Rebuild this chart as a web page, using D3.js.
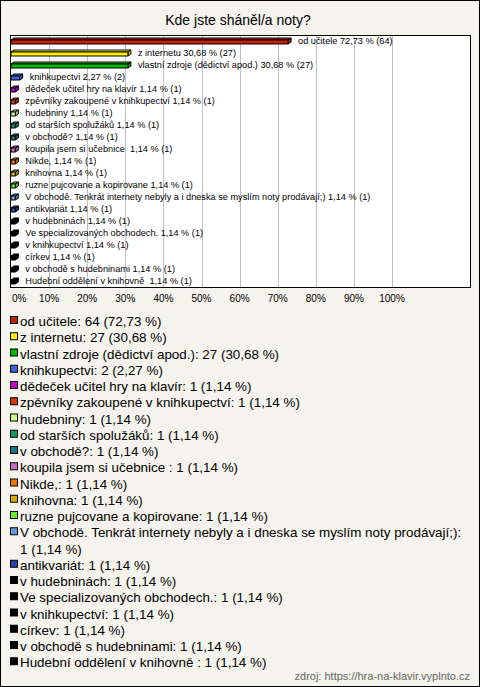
<!DOCTYPE html>
<html><head><meta charset="utf-8">
<script src="https://cdn.jsdelivr.net/npm/d3@7"></script>
<style>body{margin:0;background:#fff}svg{display:block}</style>
</head><body>
<script>
const title = "Kde jste sháněl/a noty?";
const categories = [
  "od učitele","z internetu","vlastní zdroje (dědictví apod.)","knihkupectvi",
  "dědeček učitel hry na klavír","zpěvníky zakoupené v knihkupectví","hudebniny",
  "od starších spolužáků","v obchodě?","koupila jsem si učebnice ","Nikde,","knihovna",
  "ruzne pujcovane a kopirovane","V obchodě. Tenkrát internety nebyly a i dneska se myslím noty prodávají;)",
  "antikvariát","v hudebninách","Ve specializovaných obchodech.","v knihkupectví","církev",
  "v obchodě s hudebninami","Hudební oddělení v knihovně "
];
const counts = [64,27,27,2,1,1,1,1,1,1,1,1,1,1,1,1,1,1,1,1,1];
const percents = [72.73,30.68,30.68,2.27,1.14,1.14,1.14,1.14,1.14,1.14,1.14,1.14,1.14,1.14,1.14,1.14,1.14,1.14,1.14,1.14,1.14];
const colors = ["#c41e0c","#ffee00","#00bb00","#3b66dd","#cc00cc","#dd3300","#ccff88","#119966",
  "#117788","#cc66cc","#ee7700","#ddaa00","#66ee33","#6699dd","#2244aa",
  "#000000","#000000","#000000","#000000","#000000","#000000"];
const ticks = [0,10,20,30,40,50,60,70,80,90,100];
const source = "zdroj: https://hra-na-klavir.vyplnto.cz";

const W = 480, H = 687;
const fmt = v => v.toFixed(2).replace(".", ",");
const svg = d3.select("body").append("svg").attr("width", W).attr("height", H);
svg.append("rect").attr("x",0.5).attr("y",0.5).attr("width",W-1).attr("height",H-1)
  .attr("fill","#f4f3ec").attr("stroke","#000");

svg.append("text").attr("x",238).attr("y",25).attr("text-anchor","middle")
  .attr("font-family","Liberation Sans, Arial, sans-serif").attr("font-size",14).text(title);

const plot = {x0:10, y0:35, x1:470, y1:287};
svg.append("rect").attr("x",plot.x0+0.5).attr("y",plot.y0+0.5)
  .attr("width",plot.x1-plot.x0).attr("height",plot.y1-plot.y0).attr("fill","#fff");

const x = d3.scaleLinear().domain([0,100]).range([11,392]);
const y = d3.scaleBand().domain(d3.range(categories.length)).range([plot.y0, plot.y1]);

// gridlines
svg.append("g").selectAll("line").data(ticks.slice(1)).join("line")
  .attr("x1",d=>Math.round(x(d))+0.5).attr("x2",d=>Math.round(x(d))+0.5)
  .attr("y1",plot.y0).attr("y2",plot.y1).attr("stroke","#c0c0c0");

// bars (3D)
const dx = 3, dy = 2;
const bars = svg.append("g");
categories.forEach((c,i)=>{
  const cy = y(i) + y.bandwidth()/2;
  const x0 = x(0), x1 = x(percents[i]);
  const top = cy - 1, bot = cy + 3;
  const col = d3.color(colors[i]);
  const g = bars.append("g").attr("stroke","#000").attr("stroke-width",1).attr("stroke-linejoin","round");
  g.append("path").attr("d",`M${x0},${top}L${x0+dx},${top-dy}L${x1+dx},${top-dy}L${x1},${top}Z`)
    .attr("fill", col.brighter(0.3));
  g.append("path").attr("d",`M${x1},${top}L${x1+dx},${top-dy}L${x1+dx},${bot-dy}L${x1},${bot}Z`)
    .attr("fill", col.darker(0.6));
  g.append("rect").attr("x",x0).attr("y",top).attr("width",x1-x0).attr("height",bot-top).attr("fill",colors[i]);
  svg.append("text").attr("x", x1 + dx + 7).attr("y", cy + 3)
    .attr("font-family","Liberation Sans, Arial, sans-serif").attr("font-size",9.2).attr("fill","#000")
    .style("white-space","pre")
    .text(c + " " + fmt(percents[i]) + " % (" + counts[i] + ")");
});

svg.append("rect").attr("x",plot.x0+0.5).attr("y",plot.y0+0.5)
  .attr("width",plot.x1-plot.x0).attr("height",plot.y1-plot.y0).attr("fill","none").attr("stroke","#000");

// axis labels
svg.append("g").selectAll("text").data(ticks).join("text")
  .attr("x",d=> d===0 ? 12 : x(d)).attr("y",302)
  .attr("text-anchor",d=> d===0 ? "start" : "middle")
  .attr("font-family","Liberation Sans, Arial, sans-serif").attr("font-size",10).attr("fill","#000")
  .text(d=>d+"%");

// legend
const lineH = 16.25;
let ly = 326;
const maxW = 445;
categories.forEach((c,i)=>{
  svg.append("rect").attr("x",10.5).attr("y",ly-9.5).attr("width",7).attr("height",7)
    .attr("fill",colors[i]).attr("stroke","#000");
  const full = c + ": " + counts[i] + " (" + fmt(percents[i]) + " %)";
  const t = svg.append("text").attr("x",20).attr("y",ly)
    .attr("font-family","Liberation Sans, Arial, sans-serif").attr("font-size",13.4).attr("fill","#000");
  const words = full.split(" ");
  let line = [];
  let tspan = t.append("tspan").attr("x",20).attr("y",ly);
  words.forEach(w=>{
    line.push(w);
    tspan.text(line.join(" "));
    if (tspan.node().getComputedTextLength() > maxW && line.length > 1) {
      line.pop();
      tspan.text(line.join(" "));
      line = [w];
      ly += lineH;
      tspan = t.append("tspan").attr("x",20).attr("y",ly).text(w);
    }
  });
  ly += lineH;
});

svg.append("text").attr("x",470).attr("y",680).attr("text-anchor","end")
  .attr("font-family","Liberation Sans, Arial, sans-serif").attr("font-size",11).attr("fill","#666")
  .text(source);
</script>
</body></html>
